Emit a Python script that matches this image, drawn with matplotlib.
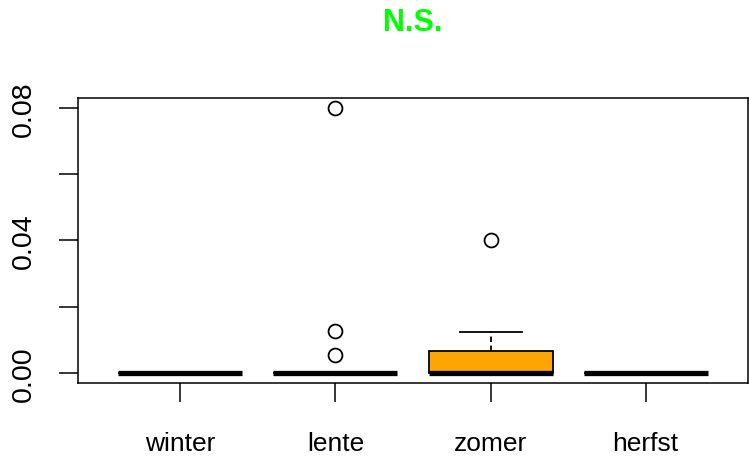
import matplotlib.pyplot as plt

plt.rcParams["font.family"] = ["Liberation Sans", "DejaVu Sans"]

# seasons and their box statistics
seasons = ["winter", "lente", "zomer", "herfst"]
q1 = [0.0, 0.0, 0.0, 0.0]
median = [0.0, 0.0, 0.0, 0.0]
q3 = [0.0, 0.0, 0.0065, 0.0]
whisker_lo = [0.0, 0.0, 0.0, 0.0]
whisker_hi = [0.0, 0.0, 0.0124, 0.0]
outliers = [[], [0.08, 0.0126, 0.0055], [0.0402], []]
box_colors = ["white", "white", "orange", "white"]

stats = []
for i, s in enumerate(seasons):
    stats.append({
        "label": s,
        "q1": q1[i],
        "med": median[i],
        "q3": q3[i],
        "whislo": whisker_lo[i],
        "whishi": whisker_hi[i],
        "fliers": outliers[i],
    })

fig = plt.figure(figsize=(7.49, 4.60), dpi=100)
ax = fig.add_axes([0.1041, 0.1652, 0.8946, 0.6196])

bp = ax.bxp(
    stats,
    positions=[1, 2, 3, 4],
    widths=0.8,
    capwidths=0.4,
    patch_artist=True,
    boxprops=dict(linewidth=1.3, edgecolor="black"),
    medianprops=dict(color="black", linewidth=3.8, solid_capstyle="butt"),
    whiskerprops=dict(color="black", linewidth=1.3, linestyle=(0, (3, 2))),
    capprops=dict(color="black", linewidth=1.3),
    flierprops=dict(marker="o", markersize=10, markerfacecolor="none",
                    markeredgecolor="black", markeredgewidth=1.3),
)
for patch, c in zip(bp["boxes"], box_colors):
    patch.set_facecolor(c)

ax.set_xlim(0.34, 4.66)
ax.set_ylim(-0.00302, 0.083)

ax.set_xticks([1, 2, 3, 4])
ax.set_xticklabels(seasons, fontsize=19)
ax.set_yticks([0.0, 0.02, 0.04, 0.06, 0.08])
ax.set_yticklabels(["0.00", "", "0.04", "", "0.08"], fontsize=20.5,
                   rotation=90, va="center")
ax.tick_params(axis="both", length=13.7, width=1.1, direction="out")
ax.tick_params(axis="x", pad=21)
ax.tick_params(axis="y", pad=16)
for sp in ax.spines.values():
    sp.set_linewidth(1.1)

fig.text(0.5514, 0.950, "N.S.", color="#00ff00", fontsize=22,
         fontweight="bold", ha="center", va="center")

fig.savefig("out.png", dpi=100)
